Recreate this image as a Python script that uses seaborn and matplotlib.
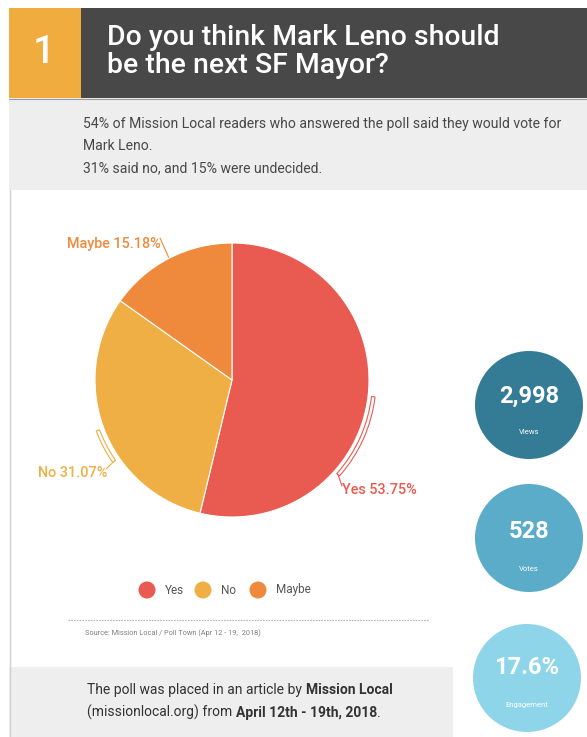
import numpy as np
import matplotlib
matplotlib.use("Agg")
import matplotlib.pyplot as plt
from matplotlib.patches import Rectangle, Circle, Wedge
import seaborn as sns

sns.set_theme(style="white")
plt.rcParams['font.family'] = ['Roboto', 'DejaVu Sans']

# Poll data
answers = ['Yes', 'No', 'Maybe']
shares = [53.75, 31.07, 15.18]
answer_colors = ['#E95A50', '#EFAF45', '#EF8A3D']

# Engagement stats
stat_values = ['2,998', '528', '17.6%']
stat_names = ['Views', 'Votes', 'Engagement']
stat_colors = ['#347B95', '#5BACC9', '#8FD5EA']

title_lines = ['Do you think Mark Leno should', 'be the next SF Mayor?']
summary_lines = ['54% of Mission Local readers who answered the poll said they would vote for',
                 'Mark Leno.',
                 '31% said no, and 15% were undecided.']
source_text = 'Source: Mission Local / Poll Town (Apr 12 - 19,  2018)'

W, H = 587, 737
fig = plt.figure(figsize=(W / 100, H / 100), dpi=100)
fig.patch.set_facecolor('white')

# background axes in pixel units
bg = fig.add_axes([0, 0, 1, 1])
bg.set_xlim(0, W)
bg.set_ylim(H, 0)
bg.axis('off')

# header
bg.add_patch(Rectangle((81, 8), W - 81, 90, color='#484848', lw=0))
bg.add_patch(Rectangle((9, 8), 72, 90, color='#F0AC3E', lw=0))
bg.add_patch(Rectangle((9, 98), W - 9, 92, color='#EEEEEE', lw=0))
bg.plot([9, W], [98.5, 98.5], color='#9a9a9a', lw=0.8)
bg.plot([9.5, 9.5], [190, H], color='#d0d0d0', lw=1)

bg.text(44, 63, '1', color='white', fontsize=28, fontweight='medium', ha='center', va='baseline')
for i, line in enumerate(title_lines):
    bg.text(107, 45 + 28 * i, line, color='white', fontsize=20.4, fontweight='medium', va='baseline')
for i, line in enumerate(summary_lines):
    bg.text(83, 128 + 22 * i, line, color='#484848', fontsize=10.1, va='baseline')

# pie, 1 data unit = 1 pixel, centred at (232, 380)
cx, cy, R = 232, 380, 137
half = 165
pie_ax = fig.add_axes([(cx - half) / W, (H - cy - half) / H, 2 * half / W, 2 * half / H])
pie_ax.pie(shares, colors=answer_colors, startangle=90, counterclock=False, radius=R,
           wedgeprops=dict(edgecolor='white', linewidth=0.8))
pie_ax.set_xlim(-half, half)
pie_ax.set_ylim(-half, half)
pie_ax.axis('off')


def px(x, y):
    return x - cx, cy - y


def polar(r, deg):
    a = np.deg2rad(deg)
    return r * np.cos(a), r * np.sin(a)


# mid angles of each slice
edges = 90 - np.cumsum([0] + shares) * 3.6
mids = (edges[:-1] + edges[1:]) / 2

# Yes: bracket running down from mid angle
yes_end = mids[0] - 35
pie_ax.add_patch(Wedge((0, 0), R + 7, yes_end, mids[0], width=3.5, fc='white',
                       ec=answer_colors[0], lw=0.8))
p = polar(R + 5, yes_end)
pie_ax.plot([p[0], px(342, 486)[0]], [p[1], px(342, 486)[1]], color=answer_colors[0], lw=0.8)
pie_ax.text(*px(342, 494), f'{answers[0]} {shares[0]:.2f}%', color=answer_colors[0],
            fontsize=10.4, fontweight='medium', va='baseline')

# No: bracket running down from mid angle
no_end = mids[1] + 14
pie_ax.add_patch(Wedge((0, 0), R + 8, mids[1], no_end, width=3.5, fc='white',
                       ec=answer_colors[1], lw=0.8))
p = polar(R + 6, no_end)
pie_ax.plot([p[0], px(106, 469)[0]], [p[1], px(106, 469)[1]], color=answer_colors[1], lw=0.8)
pie_ax.text(*px(107, 477), f'{answers[1]} {shares[1]:.2f}%', color=answer_colors[1],
            fontsize=10.4, fontweight='medium', va='baseline', ha='right')

# Maybe: straight leader
p = polar(R + 1, mids[2])
pie_ax.plot([p[0], px(160, 238)[0]], [p[1], px(160, 238)[1]], color=answer_colors[2], lw=0.8)
pie_ax.text(*px(67, 248), f'{answers[2]} {shares[2]:.2f}%', color=answer_colors[2],
            fontsize=10.4, fontweight='medium', va='baseline')

# legend
leg_x = [147, 203, 258]
sns.scatterplot(x=leg_x, y=[590] * 3, hue=answers, palette=answer_colors, s=150,
                linewidth=0, legend=False, ax=bg)
for x, name in zip(leg_x, answers):
    bg.text(x + 18, 590, name, color='#555555', fontsize=8.5, va='center')
bg.set_xlim(0, W)
bg.set_ylim(H, 0)

bg.plot([68, 428], [620, 620], color='#b5b5b5', lw=0.8, ls=(0, (1.5, 1)))
bg.text(85, 633, source_text, color='#808080', fontsize=5.3, va='center')

# bottom note
bg.add_patch(Rectangle((9, 667), 444, H - 667, color='#EEEEEE', lw=0))
renderer = fig.canvas.get_renderer()


def rich_line(x, y, parts):
    for txt, bold in parts:
        t = bg.text(x, y, txt, color='#333333', fontsize=10, va='baseline',
                    fontweight='bold' if bold else 'normal')
        bb = t.get_window_extent(renderer=renderer)
        x += bb.width


rich_line(87, 694, [('The poll was placed in an article by ', False), ('Mission Local', True)])
rich_line(87, 717, [('(missionlocal.org) from ', False), ('April 12th - 19th, 2018', True), ('.', False)])

# stat bubbles
centres = [(529, 405), (529, 538), (527, 678)]
num_y = [396, 532, 668]
lab_y = [432, 569, 705]
for (x, y), ny, ly, val, name, col in zip(centres, num_y, lab_y, stat_values, stat_names, stat_colors):
    bg.add_patch(Circle((x, y), 54, color=col, lw=0))
    bg.text(x, ny, val, color='white', fontsize=17, fontweight='bold', ha='center', va='center')
    bg.text(x, ly, name, color='white', fontsize=5.5, ha='center', va='center')

fig.savefig('out.png', dpi=100)
